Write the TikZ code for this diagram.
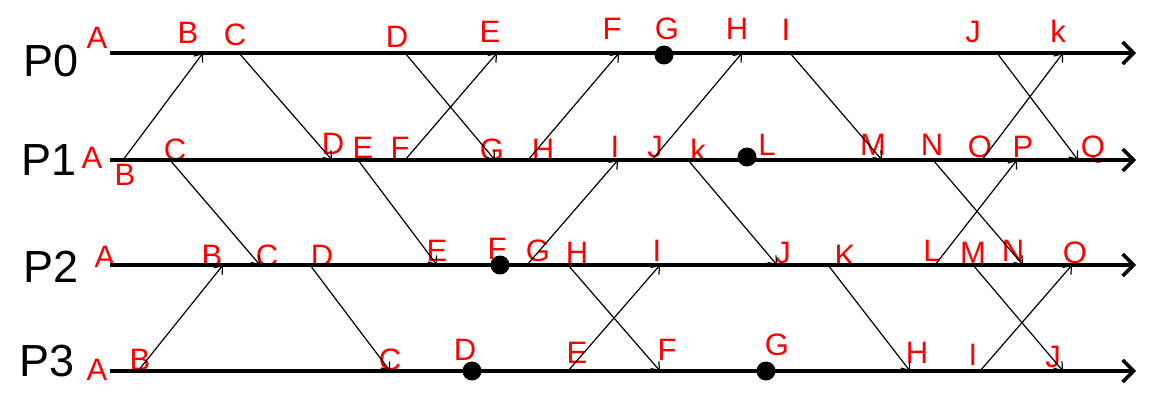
\documentclass[tikz,border=0pt]{standalone}
\usepackage{fontspec}
\setmainfont{Liberation Sans}
\usepackage{xcolor}
\usetikzlibrary{arrows.meta}
\definecolor{lblcol}{HTML}{FF0000}

\begin{document}
\begin{tikzpicture}[x=1pt,y=-1pt,
    every node/.style={inner sep=0pt},
    proc/.style={font=\fontsize{45}{45}\selectfont},
    lbl/.style={text=lblcol, font=\fontsize{31}{31}\selectfont},
    timeline/.style={line width=3.5pt, -{Straight Barb[length=11pt,width=22pt]}},
    msg/.style={line width=1.2pt, -{Straight Barb[length=7pt,width=11pt]}},
    snap/.style={circle, fill=black, minimum size=19pt}]
  \useasboundingbox (0,0) rectangle (1149,420);

  % process names
  \node[proc] (P0) at (51,61) {P0};
  \node[proc] (P1) at (49,160) {P1};
  \node[proc] (P2) at (51,267) {P2};
  \node[proc] (P3) at (47,361) {P3};

  % event labels
  \foreach \l/\x/\y in {A/97/38,B/188/33,C/235/35,D/397/37,E/490/32,F/612/29,G/667/29,
      H/737/29,I/786/30,J/973/32,k/1058/31}
    \node[lbl] (l0\l) at (\x,\y) {\l};
  \foreach \l/\x/\y in {A/92/158,B/125/175,C/175/150,D/333/144,E/363/148,F/400/148,G/492/150,
      H/543/150,I/615/147,J/655/147,k/698/150,L/767/145,M/873/145,N/932/145,O/980/147,P/1023/147,Q/1093/150}
    \node[lbl] (l1\l) at (\x,\y) {\l};
  \foreach \l/\x/\y in {A/105/257,B/212/256,C/267/256,D/322/256,E/437/251,F/497/249,G/538/251,
      H/577/253,I/657/251,J/783/253,K/845/256,L/932/251,M/973/253,N/1013/251,O/1075/253}
    \node[lbl] (l2\l) at (\x,\y) {\l};
  \foreach \l/\x/\y in {A/97/370,B/140/360,C/390/360,D/465/350,E/577/353,F/667/350,G/777/345,
      H/917/353,I/973/355,J/1053/357}
    \node[lbl] (l3\l) at (\x,\y) {\l};

  % time lines
  \foreach \i/\y in {0/53,1/160,2/265,3/371} {
    \coordinate (s\i) at (110,\y);
    \coordinate (e\i) at (1136,\y);
    \draw[timeline] (s\i) -- (e\i);
  }

  % send / receive points
  \foreach \n/\x in {B/203,C/239,D/405,E/497,F/619,H/742,I/790,J/997,K/1063}
    \coordinate (t0\n) at (\x,53);
  \foreach \n/\x in {B/123,C/170,D/332,E/358,F/405,G/495,H/528,I/618,J/652,K/688,M/882,N/933,O/982,P/1017,Q/1078}
    \coordinate (t1\n) at (\x,160);
  \foreach \n/\x in {B/223,C/260,D/310,E/437,G/527,H/568,I/660,J/777,K/828,L/935,M/973,N/1023,O/1072}
    \coordinate (t2\n) at (\x,265);
  \foreach \n/\x in {B/138,C/390,E/568,F/660,H/910,I/980,J/1063}
    \coordinate (t3\n) at (\x,371);

  % messages
  \foreach \a/\b in {t1B/t0B,t0C/t1D,t1C/t2C,t1E/t2E,t0D/t1G,t1F/t0E,t1H/t0F,t1J/t0H,
      t2G/t1I,t1K/t2J,t0I/t1M,t0J/t1Q,t1O/t0K,t1N/t2N,t2L/t1P,
      t3B/t2B,t2D/t3C,t2H/t3F,t3E/t2I,t2K/t3H,t2M/t3J,t3I/t2O}
    \draw[msg] (\a) -- (\b);

  % checkpoints
  \node[snap] (c0) at (664,55) {};
  \node[snap] (c1) at (747,157) {};
  \node[snap] (c2) at (500,265) {};
  \node[snap] (c3) at (472,371) {};
  \node[snap] (c4) at (766,371) {};
\end{tikzpicture}
\end{document}
